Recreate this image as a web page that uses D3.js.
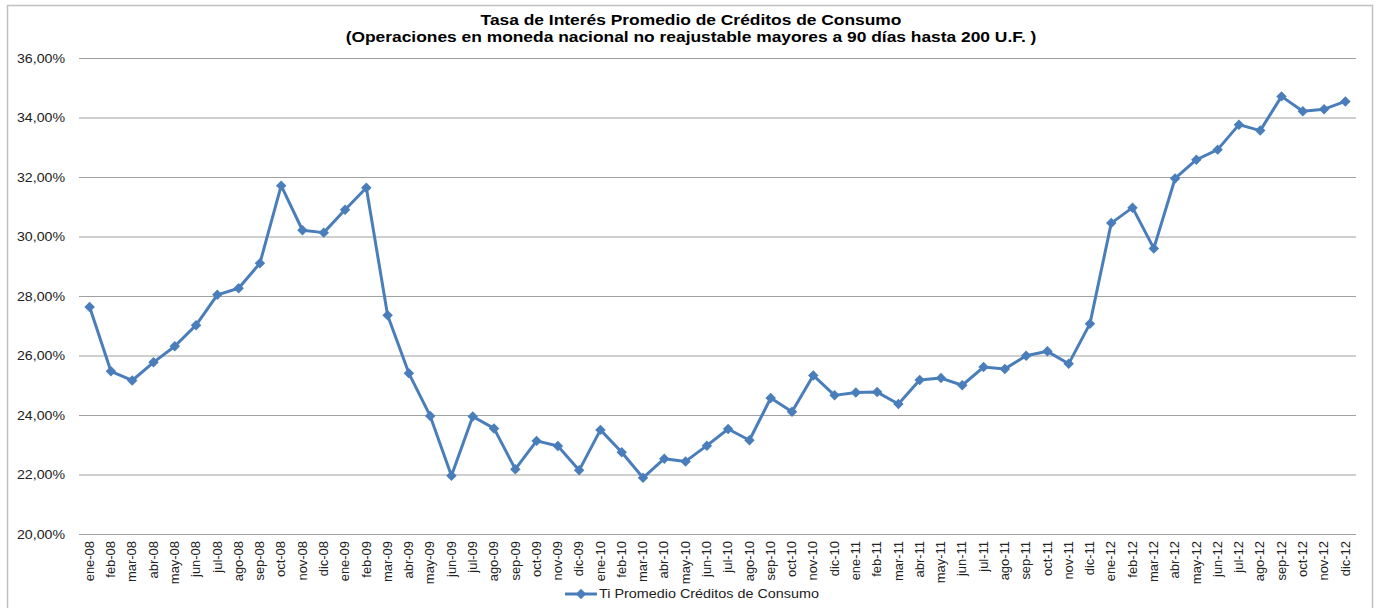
<!DOCTYPE html>
<html>
<head>
<meta charset="utf-8">
<script src="https://cdn.jsdelivr.net/npm/d3@7"></script>
<style>
  body { margin: 0; background: #fff; }
  svg { display: block; font-family: "Liberation Sans", Arial, sans-serif; }
</style>
</head>
<body>
<svg id="chart" width="1379" height="608"></svg>
<script>
// month labels
var months = [
  "ene-08","feb-08","mar-08","abr-08","may-08","jun-08","jul-08","ago-08","sep-08","oct-08","nov-08","dic-08",
  "ene-09","feb-09","mar-09","abr-09","may-09","jun-09","jul-09","ago-09","sep-09","oct-09","nov-09","dic-09",
  "ene-10","feb-10","mar-10","abr-10","may-10","jun-10","jul-10","ago-10","sep-10","oct-10","nov-10","dic-10",
  "ene-11","feb-11","mar-11","abr-11","may-11","jun-11","jul-11","ago-11","sep-11","oct-11","nov-11","dic-11",
  "ene-12","feb-12","mar-12","abr-12","may-12","jun-12","jul-12","ago-12","sep-12","oct-12","nov-12","dic-12"
];

// Ti Promedio Créditos de Consumo (%)
var tasa = [
  27.63, 25.47, 25.16, 25.77, 26.31, 27.02, 28.04, 28.26, 29.10, 31.71, 30.21, 30.13,
  30.90, 31.64, 27.35, 25.40, 23.97, 21.96, 23.95, 23.55, 22.18, 23.13, 22.96, 22.14,
  23.50, 22.75, 21.89, 22.53, 22.44, 22.97, 23.53, 23.15, 24.57, 24.11, 25.33, 24.66,
  24.76, 24.77, 24.37, 25.18, 25.24, 25.00, 25.61, 25.55, 25.99, 26.14, 25.72, 27.07,
  30.45, 30.97, 29.60, 31.95, 32.58, 32.92, 33.76, 33.56, 34.71, 34.21, 34.28, 34.54
];

var yTicks = [20, 22, 24, 26, 28, 30, 32, 34, 36];

var seriesName = "Ti Promedio Créditos de Consumo";
var title1 = "Tasa de Interés Promedio de Créditos de Consumo";
var title2 = "(Operaciones en moneda nacional no reajustable mayores a 90 días hasta 200 U.F. )";

var margin = { top: 58, right: 23, bottom: 74, left: 79 };
var W = 1379, H = 608;
var width = W - margin.left - margin.right;
var height = H - margin.top - margin.bottom;

var svg = d3.select("#chart");

// chart border
svg.append("rect")
  .attr("x", 7.5).attr("y", 5.5)
  .attr("width", 1365).attr("height", 640)
  .attr("fill", "none")
  .attr("stroke", "#c0c0c0")
  .attr("stroke-width", 1.5);

// titles (text in the original is a bit stretched sideways)
svg.append("text")
  .attr("transform", "translate(691,25) scale(1.2,1)")
  .attr("text-anchor", "middle")
  .style("font-weight", "bold").style("font-size", "14.5px")
  .text(title1);
svg.append("text")
  .attr("transform", "translate(691,42) scale(1.2,1)")
  .attr("text-anchor", "middle")
  .style("font-weight", "bold").style("font-size", "14.5px")
  .text(title2);

var g = svg.append("g")
  .attr("transform", "translate(" + margin.left + "," + margin.top + ")");

var x = d3.scaleBand().domain(months).range([0, width]);
var y = d3.scaleLinear().domain([20, 36]).range([height, 0]);

// gridlines + y labels
var yAxis = g.append("g")
  .call(d3.axisLeft(y).tickValues(yTicks).tickSize(-width)
    .tickFormat(function(d) { return d.toFixed(2).replace(".", ",") + "%"; }));
yAxis.select(".domain").remove();
yAxis.selectAll(".tick line").attr("stroke", "#a0a0a0").attr("stroke-width", 1.2);
yAxis.selectAll(".tick text")
  .attr("x", null)
  .attr("transform", "translate(-14,0) scale(1.09,1)")
  .style("font-size", "13px")
  .style("font-family", "Liberation Sans, Arial, sans-serif")
  .attr("fill", "#222");

// x labels
var xAxis = g.append("g")
  .attr("transform", "translate(0," + height + ")")
  .call(d3.axisBottom(x).tickSize(0));
xAxis.select(".domain").remove();
xAxis.selectAll(".tick text")
  .attr("transform", "rotate(-90) scale(1.08,1)")
  .attr("text-anchor", "end")
  .attr("x", -6.5).attr("y", 0).attr("dy", "0.35em")
  .style("font-size", "12px")
  .style("font-family", "Liberation Sans, Arial, sans-serif")
  .attr("fill", "#222");

var blue = "#4a7ebb";
var line = d3.line()
  .x(function(d, i) { return x(months[i]) + x.bandwidth() / 2; })
  .y(function(d) { return y(d); });

g.append("path")
  .datum(tasa)
  .attr("d", line)
  .attr("fill", "none")
  .attr("stroke", blue)
  .attr("stroke-width", 3)
  .attr("stroke-linejoin", "round");

var diamond = d3.symbol().type(d3.symbolDiamond2).size(70);
g.selectAll(".pt")
  .data(tasa)
  .enter().append("path")
  .attr("class", "pt")
  .attr("d", diamond)
  .attr("transform", function(d, i) {
    return "translate(" + (x(months[i]) + x.bandwidth() / 2) + "," + y(d) + ")";
  })
  .attr("fill", blue);

// legend
var leg = svg.append("g").attr("transform", "translate(565,594)");
leg.append("line")
  .attr("x1", 0).attr("x2", 32).attr("y1", 0).attr("y2", 0)
  .attr("stroke", blue).attr("stroke-width", 3);
leg.append("path")
  .attr("d", diamond)
  .attr("transform", "translate(16,0)")
  .attr("fill", blue);
leg.append("text")
  .attr("transform", "translate(34,0) scale(1.15,1)")
  .attr("dy", "0.35em")
  .style("font-size", "12.5px")
  .attr("fill", "#222")
  .text(seriesName);
</script>
</body>
</html>
